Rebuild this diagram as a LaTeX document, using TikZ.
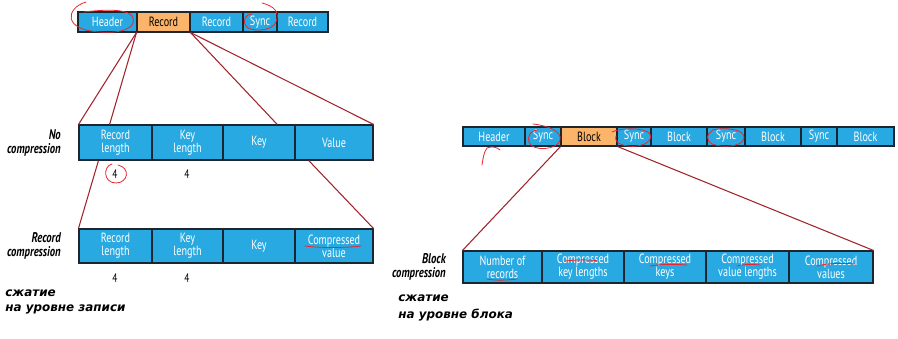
\documentclass[tikz,border=0pt]{standalone}
\usepackage{fontspec}
\setsansfont[FakeStretch=0.76]{PT Sans}
\newfontfamily\rusfont{DejaVu Sans}
\usetikzlibrary{calc,positioning}
\definecolor{cellblue}{HTML}{29A9E1}
\definecolor{cellorange}{HTML}{FBB469}
\definecolor{celledge}{HTML}{1C2630}
\definecolor{linered}{HTML}{A3232B}
\definecolor{inkred}{HTML}{E8262B}
\tikzset{
  cell/.style={draw=celledge,line width=0.6pt,fill=cellblue,text=white,inner sep=0pt,
    align=center,font={\fontsize{7.6}{7.4}\selectfont\sffamily}},
  hotcell/.style={cell,fill=cellorange,text=black},
  rowlabel/.style={anchor=east,align=right,font={\fontsize{8}{7.8}\selectfont\sffamily\bfseries\itshape}},
  numlabel/.style={font={\fontsize{7}{7}\selectfont\sffamily}},
  ruslabel/.style={anchor=north west,align=left,inner sep=0pt,font={\fontsize{6.8}{9}\selectfont\rusfont\bfseries\itshape}},
  zoomline/.style={linered,line width=0.6pt},
  markup/.style={inkred,line width=0.45pt,line cap=round}
}

\begin{document}
\begin{tikzpicture}[x=0.02cm,y=-0.02cm]
  \useasboundingbox[fill=white] (0,0) rectangle (898,338);

  % top file layout, records
  \node[hotcell,minimum width=1.06cm,minimum height=0.4cm] (r1) at (163.5,22) {Record};
  \foreach \n/\a/\b/\t in {hd/78/137/Header,r2/190/243/Record,sy/243/277/Sync,r3/277/328/Record}
    \node[cell,minimum width={(\b-\a)*0.02cm},minimum height=0.4cm] (\n) at ({(\a+\b)/2},22) {\t};

  % no compression
  \foreach \n/\a/\b/\t in {nl/79/152/Record\\length,nk/152/223/Key\\length,nkey/223/295/Key,nv/295/373/Value}
    \node[cell,minimum width={(\b-\a)*0.02cm},minimum height=0.7cm] (\n) at ({(\a+\b)/2},142.5) {\t};
  \node[rowlabel] (nolab) at (67,143) {No\\compression};
  \node[numlabel] (n4a) at (115,174) {4};
  \node[numlabel] (n4b) at (187,174) {4};

  % record compression
  \foreach \n/\a/\b/\t in {rl/79/152/Record\\length,rk/152/223/Key\\length,rkey/223/295/Key,rv/295/373/Compressed\\value}
    \node[cell,minimum width={(\b-\a)*0.02cm},minimum height=0.68cm] (\n) at ({(\a+\b)/2},246) {\t};
  \node[rowlabel] (reclab) at (67,246) {Record\\compression};
  \node[numlabel] (r4a) at (115,278) {4};
  \node[numlabel] (r4b) at (187,278) {4};
  \node[ruslabel] (rusrec) at (5,289) {сжатие\\на уровне записи};

  % top file layout, blocks
  \node[hotcell,minimum width=1.12cm,minimum height=0.38cm] (bb1) at (589,136.5) {Block};
  \foreach \n/\a/\b/\t in {bh/463/525/Header,bs1/525/561/Sync,bs2/617/651/Sync,bb2/651/707/Block,
      bs3/707/745/Sync,bb3/745/801/Block,bs4/801/837/Sync,bb4/837/894/Block}
    \node[cell,minimum width={(\b-\a)*0.02cm},minimum height=0.38cm] (\n) at ({(\a+\b)/2},136.5) {\t};

  % block compression
  \foreach \n/\a/\b/\t in {cn/463/542/Number of\\records,ck/542/624/Compressed\\key lengths,
      cks/624/706/Compressed\\keys,cvl/706/789/Compressed\\value lengths,cv/789/873/Compressed\\values}
    \node[cell,minimum width={(\b-\a)*0.02cm},minimum height=0.64cm] (\n) at ({(\a+\b)/2},267) {\t};
  \node[rowlabel] (blklab) at (452,267) {Block\\compression};
  \node[ruslabel] (rusblk) at (398,294) {сжатие\\[1pt]на уровне блока};

  % zoom lines
  \draw[zoomline] (r1.south west) -- (nl.north west);
  \draw[zoomline] (r1.south west) -- ($(nl.north west)!0.42!(nl.north east)$);
  \draw[zoomline] (r1.south east) -- ($(nkey.north west)!0.75!(nkey.north east)$);
  \draw[zoomline] (r1.south east) -- (nv.north east);
  \draw[zoomline] ($(nl.south west)!0.27!(nl.south east)$) -- (rl.north west);
  \draw[zoomline] ($(nv.south west)!0.18!(nv.south east)$) -- (rv.north east);
  \draw[zoomline] (bb1.south west) -- (cn.north west);
  \draw[zoomline] (bb1.south east) -- (cv.north east);

  % hand markup
  \draw[markup] (86,2) .. controls (66,8) and (62,30) .. (100,32) .. controls (125,34) and (138,26) .. (132,16)
    .. controls (126,8) and (100,10) .. (84,12);
  \draw[markup] (262,3) .. controls (274,6) and (280,12) .. (276,22) .. controls (272,32) and (250,32) .. (246,26)
    .. controls (242,20) and (246,14) .. (252,14);
  \draw[markup] (112,164) .. controls (103,166) and (103,183) .. (116,183) .. controls (128,183) and (131,168) .. (118,165);
  \draw[markup] (305,246) .. controls (320,248) and (345,248) .. (361,246);
  \draw[markup] (482,165) .. controls (483,158) and (484,152) .. (487,148) .. controls (492,146) and (497,147) .. (500,150);
  \draw[markup] (533,124) .. controls (550,126) and (562,132) .. (560,140) .. controls (558,150) and (532,152) .. (529,142)
    .. controls (527,134) and (532,130) .. (538,130);
  \draw[markup] (612,132) .. controls (620,128) and (645,127) .. (650,134) .. controls (654,142) and (640,148) .. (628,146)
    .. controls (618,145) and (614,140) .. (616,136);
  \draw[markup] (712,130) .. controls (725,127) and (745,129) .. (744,138) .. controls (743,147) and (722,148) .. (712,144)
    .. controls (706,140) and (706,134) .. (712,131);
  \draw[markup] (487,279) .. controls (497,281) and (508,280) .. (517,279);
  \draw[markup] (565,261) .. controls (575,260) and (588,259) .. (598,261);
  \draw[markup] (650,266) .. controls (662,264) and (675,264) .. (687,265);
  \draw[markup] (737,266) .. controls (745,264) and (753,264) .. (760,265);
  \draw[markup] (817,266) .. controls (828,263) and (843,263) .. (855,264);
\end{tikzpicture}
\end{document}
